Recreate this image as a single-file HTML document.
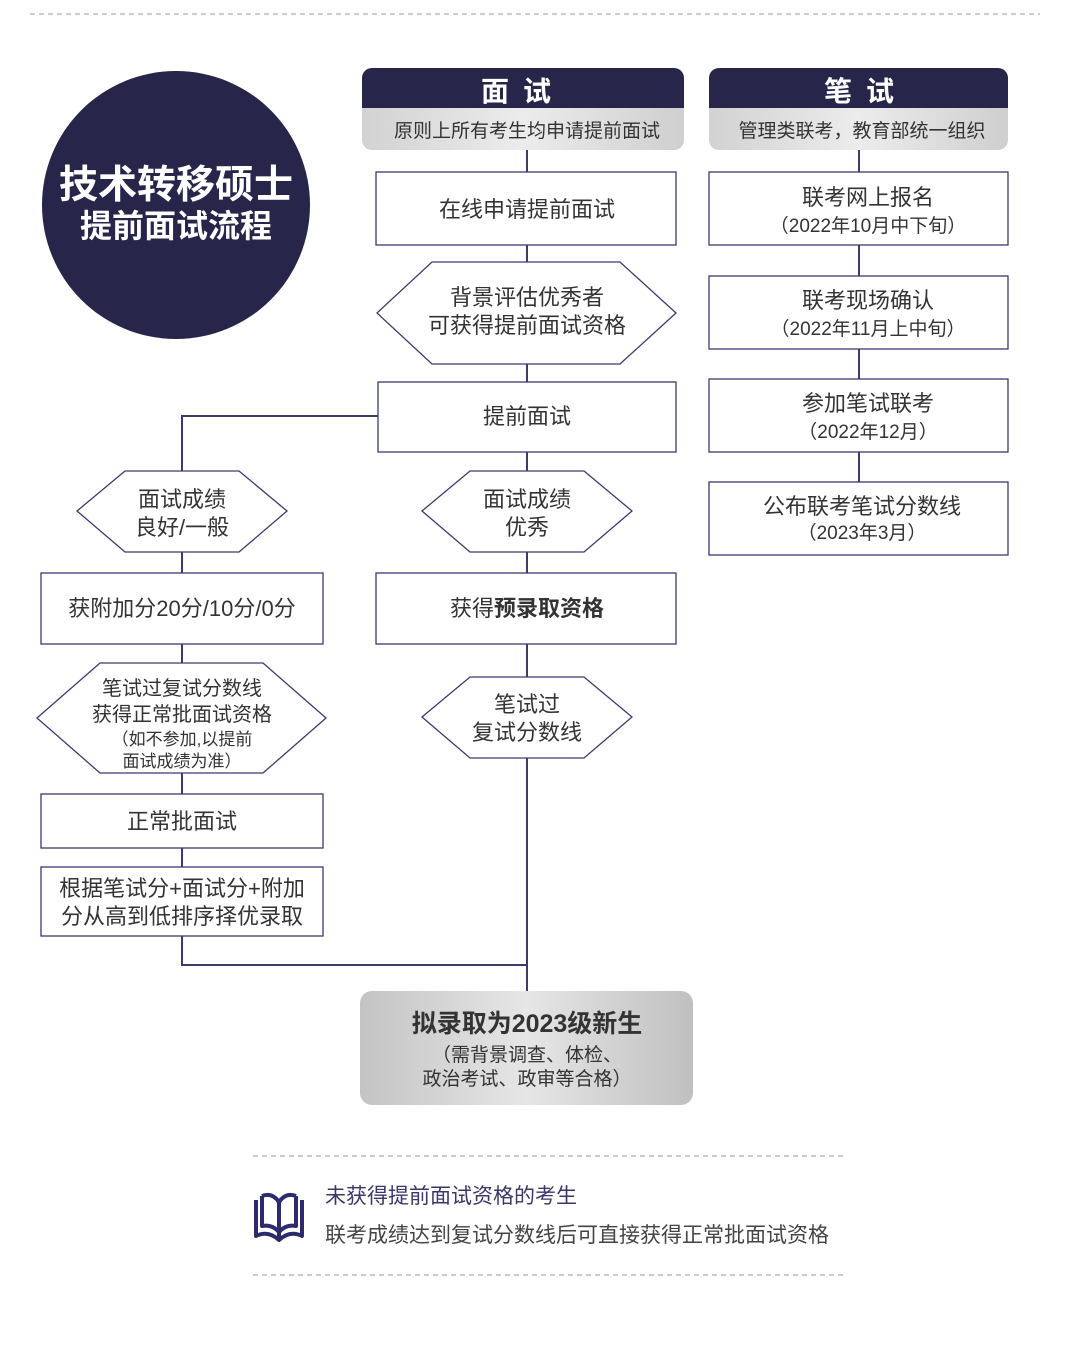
<!DOCTYPE html>
<html><head><meta charset="utf-8"><style>
html,body{margin:0;padding:0;background:#fff}
svg text{font-family:"Liberation Sans","Noto Sans CJK SC",sans-serif}
</style></head><body>
<svg width="1080" height="1354" viewBox="0 0 1080 1354" xmlns="http://www.w3.org/2000/svg">
<defs>
<linearGradient id="g1" x1="0" x2="1" y1="0" y2="0">
<stop offset="0" stop-color="#d2d2d2"/><stop offset="0.5" stop-color="#ececec"/><stop offset="1" stop-color="#cfcfcf"/></linearGradient>
<linearGradient id="g2" x1="0" x2="1" y1="0" y2="0">
<stop offset="0" stop-color="#c4c4c4"/><stop offset="0.5" stop-color="#e6e6e6"/><stop offset="1" stop-color="#c0c0c0"/></linearGradient>
</defs>
<line x1="30" y1="14" x2="1040" y2="14" stroke="#999" stroke-dasharray="5,4"/>
<circle cx="176" cy="205" r="134" fill="#27264a"/>
<text x="176" y="198" fill="#fff" font-size="39" font-weight="bold" text-anchor="middle">技术转移硕士</text>
<text x="176" y="237" fill="#fff" font-size="32" font-weight="bold" text-anchor="middle">提前面试流程</text>

<g stroke="#3d3a6e" stroke-width="2" fill="none">
<line x1="527" y1="150" x2="527" y2="965"/>
<line x1="859" y1="150" x2="859" y2="482"/>
<polyline points="378,416 182,416 182,965 527,965 527,991"/>
</g>

<!-- headers -->
<path d="M372,68 H674 a10,10 0 0 1 10,10 V108 H362 V78 a10,10 0 0 1 10,-10z" fill="#27264a"/>
<path d="M362,108 H684 V140 a10,10 0 0 1 -10,10 H372 a10,10 0 0 1 -10,-10z" fill="url(#g1)"/>
<text x="523" y="101" fill="#fff" font-size="28" font-weight="bold" text-anchor="middle" letter-spacing="14">面试</text>
<text x="527" y="137" fill="#333" font-size="19" text-anchor="middle">原则上所有考生均申请提前面试</text>
<path d="M719,68 H998 a10,10 0 0 1 10,10 V108 H709 V78 a10,10 0 0 1 10,-10z" fill="#27264a"/>
<path d="M709,108 H1008 V140 a10,10 0 0 1 -10,10 H719 a10,10 0 0 1 -10,-10z" fill="url(#g1)"/>
<text x="866" y="101" fill="#fff" font-size="28" font-weight="bold" text-anchor="middle" letter-spacing="14">笔试</text>
<text x="862" y="137" fill="#333" font-size="19" text-anchor="middle">管理类联考，教育部统一组织</text>

<g fill="#fff" stroke="#3d3a6e" stroke-width="1.3">
<rect x="376" y="172" width="300" height="73"/>
<polygon points="377,313 432,262 620,262 676,313 620,364 432,364"/>
<rect x="378" y="382" width="298" height="70"/>
<polygon points="422,511 470,471 584,471 632,511 584,552 470,552"/>
<rect x="376" y="573" width="300" height="71"/>
<polygon points="422,717 470,677 584,677 632,717 584,758 470,758"/>
<polygon points="77,511 125,471 239,471 287,511 239,552 125,552"/>
<rect x="41" y="573" width="282" height="71"/>
<polygon points="37,718 100,663 263,663 326,718 263,773 100,773"/>
<rect x="41" y="794" width="282" height="54"/>
<rect x="41" y="867" width="282" height="69"/>
<rect x="709" y="172" width="299" height="73"/>
<rect x="709" y="276" width="299" height="73"/>
<rect x="709" y="379" width="299" height="73"/>
<rect x="709" y="482" width="299" height="73"/>
</g>

<g fill="#333" font-size="22" text-anchor="middle">
<text x="527" y="217">在线申请提前面试</text>
<text x="527" y="305">背景评估优秀者</text>
<text x="527" y="333">可获得提前面试资格</text>
<text x="527" y="424">提前面试</text>
<text x="527" y="507">面试成绩</text>
<text x="527" y="535">优秀</text>
<text x="527" y="616">获得<tspan font-weight="bold">预录取资格</tspan></text>
<text x="527" y="712">笔试过</text>
<text x="527" y="740">复试分数线</text>
<text x="182" y="507">面试成绩</text>
<text x="182" y="535">良好/一般</text>
<text x="182" y="616">获附加分20分/10分/0分</text>
<text x="182" y="695" font-size="20">笔试过复试分数线</text>
<text x="182" y="721" font-size="20">获得正常批面试资格</text>
<text x="182" y="745" font-size="17">（如不参加,以提前</text>
<text x="182" y="767" font-size="17">面试成绩为准）</text>
<text x="182" y="829">正常批面试</text>
<text x="182" y="896">根据笔试分+面试分+附加</text>
<text x="182" y="924">分从高到低排序择优录取</text>
<text x="868" y="205">联考网上报名</text>
<text x="868" y="232" font-size="19">（2022年10月中下旬）</text>
<text x="868" y="308">联考现场确认</text>
<text x="868" y="335" font-size="19">（2022年11月上中旬）</text>
<text x="868" y="411">参加笔试联考</text>
<text x="868" y="438" font-size="19">（2022年12月）</text>
<text x="862" y="514">公布联考笔试分数线</text>
<text x="862" y="539" font-size="19">（2023年3月）</text>
</g>

<rect x="360" y="991" width="333" height="114" rx="12" fill="url(#g2)"/>
<text x="527" y="1032" fill="#333" font-size="25" font-weight="bold" text-anchor="middle">拟录取为2023级新生</text>
<text x="527" y="1061" fill="#333" font-size="19" text-anchor="middle">（需背景调查、体检、</text>
<text x="527" y="1085" fill="#333" font-size="19" text-anchor="middle">政治考试、政审等合格）</text>

<line x1="253" y1="1156" x2="845" y2="1156" stroke="#999" stroke-dasharray="5,4"/>
<line x1="253" y1="1275" x2="845" y2="1275" stroke="#999" stroke-dasharray="5,4"/>
<g fill="none" stroke="#2e2a6e" stroke-width="4" stroke-linejoin="round">
<path d="M256,1200 V1236 Q268,1230 279,1240 Q290,1230 302,1236 V1200"/>
<path d="M262,1196 V1226 Q272,1224 279,1232 Q286,1224 296,1226 V1196"/>
<line x1="279" y1="1202" x2="279" y2="1238"/>
<path d="M262,1196 Q272,1192 279,1202 Q286,1192 296,1196"/>
</g>
<text x="325" y="1203" fill="#3b3768" font-size="21">未获得提前面试资格的考生</text>
<text x="325" y="1242" fill="#444" font-size="21">联考成绩达到复试分数线后可直接获得正常批面试资格</text>
</svg>
</body></html>
